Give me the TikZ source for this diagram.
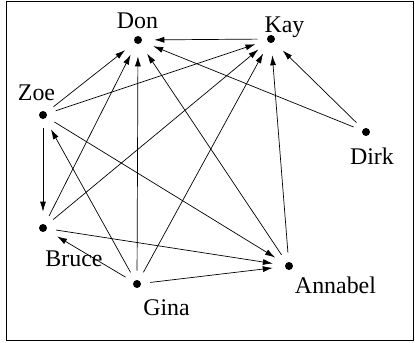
\documentclass[tikz,border=0pt]{standalone}
\usepackage{fontspec}
\setmainfont{Liberation Serif}
\usetikzlibrary{arrows.meta}

\begin{document}
\begin{tikzpicture}[x=1bp,y=-1bp,line width=0.7bp,
  >={Latex[length=10bp,width=6bp]},
  dot/.style={circle,fill,inner sep=0pt,minimum size=8bp},
  who/.style={anchor=base,inner sep=0pt,font=\fontsize{24}{28}\selectfont},
  tie/.style={->,shorten <=9bp,shorten >=12bp}]
\useasboundingbox (0,0) rectangle (415,343);
\draw (6,1.5) rectangle (413,340.5);
\node[dot] (don) at (138,40) {};
\node[dot] (kay) at (271,39) {};
\node[dot] (zoe) at (43,115) {};
\node[dot] (dirk) at (366,132) {};
\node[dot] (bruce) at (43,228) {};
\node[dot] (gina) at (137,284) {};
\node[dot] (annabel) at (289,266) {};
\node[who] (donname) at (137.5,28) {Don};
\node[who] (kayname) at (284.5,32) {Kay};
\node[who] (zoename) at (36.5,100) {Zoe};
\node[who] (dirkname) at (372,164) {Dirk};
\node[who] (brucename) at (74,266) {Bruce};
\node[who] (gina name) at (166.5,315) {Gina};
\node[who] (annabelname) at (335.5,293) {Annabel};
\path[tie] (kay) edge (don)
  (dirk) edge (don)
  (dirk) edge (kay)
  (zoe) edge (don)
  (zoe) edge (kay)
  (zoe) edge (bruce)
  (zoe) edge (annabel)
  (bruce) edge (don)
  (bruce) edge (kay)
  (bruce) edge (annabel)
  (gina) edge (bruce)
  (gina) edge (zoe)
  (gina) edge (don)
  (gina) edge (kay)
  (gina) edge (annabel)
  (annabel) edge (don)
  (annabel) edge (kay);
\end{tikzpicture}
\end{document}
